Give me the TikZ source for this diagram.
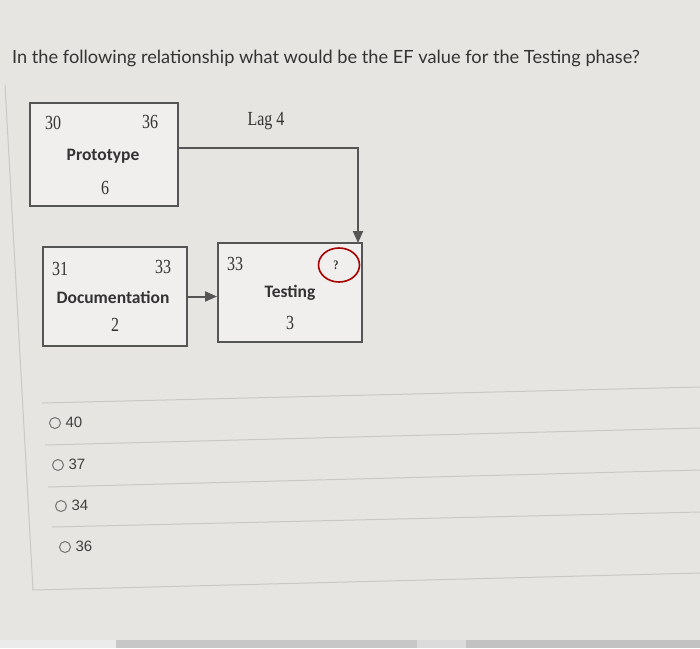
\documentclass[tikz,border=0pt]{standalone}
\usepackage{fontspec}
\usepackage{tikz}
\usetikzlibrary{arrows.meta,shapes.geometric}
\setmainfont{Liberation Sans}
\newfontfamily\qfont{Lato}
\newfontfamily\boxfont{Carlito}
\newfontfamily\numfont[FakeStretch=0.8]{Liberation Serif}
\definecolor{screen}{HTML}{E6E5E1}
\definecolor{boxline}{HTML}{555555}
\definecolor{rule}{HTML}{C9C8C4}
\tikzset{
  phase/.style={draw=boxline, line width=2pt, fill=screen!60!white, minimum width=#1, inner sep=0pt},
  num/.style={font=\numfont\fontsize{20}{20}\selectfont, text=black!80},
  title/.style={font=\boxfont\bfseries\fontsize{17.5}{17.5}\selectfont, text=black!80},
  link/.style={draw=boxline, line width=2pt, -{Triangle[length=12pt,width=10pt]}},
  choice/.style={font=\fontsize{15}{15}\selectfont, text=black!75, anchor=west},
  radio/.style={circle, draw=black!55, line width=1pt, minimum size=11pt, inner sep=0pt}
}
\begin{document}
\begin{tikzpicture}[x=1pt,y=-1pt]
        \fill[screen] (0,0) rectangle (700,648);
        \useasboundingbox (0,0) rectangle (700,648);
        % question
        \node[font=\qfont\fontsize{18.2}{18.2}\selectfont, text=black!80, anchor=base west, inner sep=0pt] (question) at (12,63) {In the following relationship what would be the EF value for the Testing phase?};
        % panel
        \draw[rule, line width=1pt] (5,85) -- (33,590) -- (700,573);
        \draw[rule, line width=1pt] (42,403) -- (700,387);
        \draw[rule, line width=1pt] (45,445) -- (700,428);
        \draw[rule, line width=1pt] (48,487) -- (700,470);
        \draw[rule, line width=1pt] (52,527) -- (700,512);
        % phases
        \node[phase=148pt, minimum height=103pt] (proto) at (104,154.5) {};
        \node[phase=144pt, minimum height=99pt] (doc) at (115,296.5) {};
        \node[phase=144pt, minimum height=99pt] (test) at (290,292.5) {};
        \node[num] (protoES) at (53,123) {30};
        \node[num] (protoEF) at (150,122) {36};
        \node[title] (protoName) at (103,156) {Prototype};
        \node[num] (protoDur) at (105,188) {6};
        \node[num] (docES) at (60,269) {31};
        \node[num] (docEF) at (163,267) {33};
        \node[title] (docName) at (113,297) {Documentation};
        \node[num] (docDur) at (115,325) {2};
        \node[num] (testES) at (235,264) {33};
        \node[num, font=\numfont\bfseries\fontsize{13}{13}\selectfont] (testEF) at (336,265) {?};
        \node[title] (testName) at (290,293) {Testing};
        \node[num] (testDur) at (290,323) {3};
        \node[ellipse, draw=red!65!black, line width=1.6pt, minimum width=41pt, minimum height=34pt] (mark) at (339,265) {};
        % links
        \coordinate (bend) at (358,148);
        \coordinate (testIn) at (358,243);
        \draw[link] (proto.east |- bend) -- (bend) -- (testIn);
        \node[num] (lag) at (266,121) {Lag 4};
        \draw[link] (doc.east) -- (doc.east -| test.west);
        % choices
        \node[radio] (optA) at (55,423) {};
        \node[choice] (txtA) at (62,422) {40};
        \node[radio] (optB) at (58,465) {};
        \node[choice] (txtB) at (65,464) {37};
        \node[radio] (optC) at (61,506) {};
        \node[choice] (txtC) at (68,505) {34};
        \node[radio] (optD) at (65,547) {};
        \node[choice] (txtD) at (72,546) {36};
        % taskbar
        \fill[black!8] (0,640) rectangle (116,648);
        \fill[black!22] (116,640) rectangle (417,648);
        \fill[black!14] (417,640) rectangle (466,648);
        \fill[black!24] (466,640) rectangle (700,648);
      \end{tikzpicture}
\end{document}
